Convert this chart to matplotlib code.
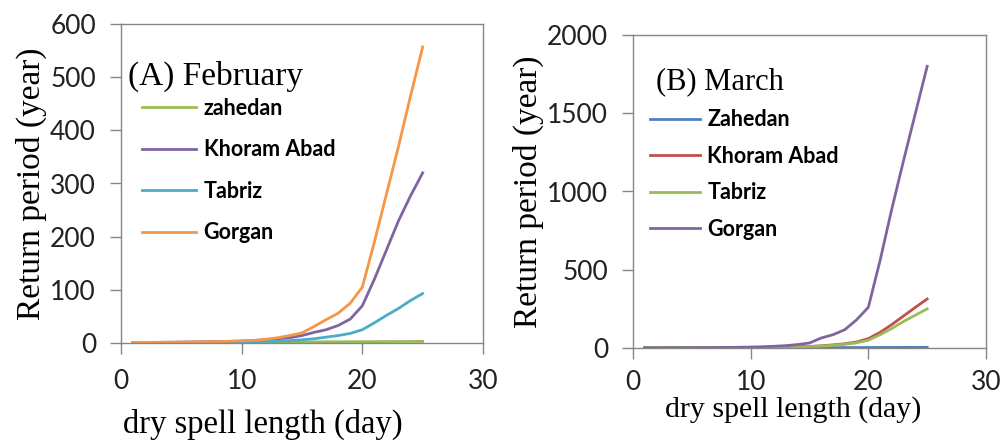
import matplotlib
matplotlib.use("Agg")
import matplotlib.pyplot as plt

days = list(range(1, 26))

# February (A)
feb_zahedan = [1.0, 1.0, 1.1, 1.1, 1.2, 1.2, 1.3, 1.3, 1.4, 1.5, 1.6, 1.7, 1.8, 1.9, 2.0, 2.1, 2.2, 2.3, 2.4, 2.5, 2.6, 2.7, 2.8, 2.9, 3.0]
feb_khoram = [1.0, 1.1, 1.2, 1.4, 1.6, 1.9, 2.2, 2.6, 3.0, 3.5, 4.5, 6, 8, 10, 14, 20, 25, 33, 45, 70, 120, 175, 230, 277, 320]
feb_tabriz = [1.0, 1.0, 1.1, 1.2, 1.3, 1.4, 1.5, 1.6, 1.7, 1.8, 2.2, 2.8, 3.5, 4.5, 6, 8, 11, 14, 18, 25, 38, 52, 65, 80, 93]
feb_gorgan = [1.0, 1.1, 1.2, 1.4, 1.6, 1.9, 2.2, 2.6, 3.2, 4.0, 5.0, 7, 10, 14, 19, 31, 44, 56, 75, 105, 190, 280, 370, 465, 557]

# March (B)
mar_zahedan = [1.0, 1.0, 1.0, 1.1, 1.1, 1.2, 1.2, 1.3, 1.4, 1.5, 1.6, 1.7, 1.8, 2.0, 2.2, 2.4, 2.6, 2.8, 3.0, 3.2, 3.4, 3.6, 3.8, 4.0, 4.2]
mar_khoram = [1.0, 1.1, 1.2, 1.3, 1.5, 1.7, 2.0, 2.4, 2.9, 3.5, 4.5, 5.5, 7, 8.5, 10, 14, 20, 27, 38, 60, 100, 150, 205, 260, 313]
mar_tabriz = [1.0, 1.1, 1.2, 1.3, 1.4, 1.6, 1.9, 2.2, 2.6, 3.1, 4.0, 5.0, 6.2, 7.5, 9, 12, 17, 24, 33, 50, 85, 125, 170, 210, 250]
mar_gorgan = [1.0, 1.1, 1.3, 1.5, 1.8, 2.2, 2.8, 3.5, 4.5, 6, 8, 11, 15, 22, 32, 64, 85, 117, 180, 260, 560, 890, 1200, 1500, 1800]

feb_labels = ["zahedan", "Khoram Abad", "Tabriz", "Gorgan"]
mar_labels = ["Zahedan", "Khoram Abad", "Tabriz", "Gorgan"]
feb_colors = ["#9BBB59", "#8064A2", "#4BACC6", "#F79646"]
mar_colors = ["#4F81BD", "#C0504D", "#9BBB59", "#8064A2"]

W, H = 1002, 448
fig = plt.figure(figsize=(W / 100, H / 100), dpi=100)

serif = ["Liberation Serif", "DejaVu Serif"]
sans = ["Lato", "DejaVu Sans"]
grey = "#868686"


def make_ax(l, r, t, b):
    return fig.add_axes([l / W, (H - b) / H, (r - l) / W, (b - t) / H])


def style(ax, ymax, ystep, xpad, ypad):
    ax.set_xlim(0, 30)
    ax.set_ylim(0, ymax)
    ax.set_xticks([0, 10, 20, 30])
    ax.set_yticks(list(range(0, ymax + 1, ystep)))
    for s in ax.spines.values():
        s.set_color(grey)
        s.set_linewidth(1.0)
    ax.tick_params(axis="x", direction="out", length=8, color=grey, width=1.0, pad=xpad, labelsize=19)
    ax.tick_params(axis="y", direction="out", length=8, color=grey, width=1.0, pad=ypad, labelsize=19)
    for lab in ax.get_xticklabels() + ax.get_yticklabels():
        lab.set_family(sans)
        lab.set_color("#222222")


# Panel A
axA = make_ax(121, 483, 24, 343)
for vals, lab, c in zip([feb_zahedan, feb_khoram, feb_tabriz, feb_gorgan], feb_labels, feb_colors):
    axA.plot(days, vals, color=c, lw=2.0, label=lab)
style(axA, 600, 100, 11, 10)
axA.set_ylabel("Return period (year)", family=serif, fontsize=24, labelpad=2)
axA.set_xlabel("dry spell length (day)", family=serif, fontsize=23.5, labelpad=16)
axA.xaxis.set_label_coords(0.392, -0.205)
axA.text(0.02, 0.835, "(A) February", transform=axA.transAxes, family=serif, fontsize=24, va="center", ha="left")
axA.legend(loc="upper left", bbox_to_anchor=(0.035, 0.795), frameon=False,
           prop={"family": sans, "size": 15.5, "weight": "bold"},
           handlelength=2.5, handletextpad=0.35, labelspacing=0.95, borderaxespad=0)

# Panel B
axB = make_ax(633, 986, 35, 348)
for vals, lab, c in zip([mar_zahedan, mar_khoram, mar_tabriz, mar_gorgan], mar_labels, mar_colors):
    axB.plot(days, vals, color=c, lw=2.0, label=lab)
style(axB, 2000, 500, 8, 10)
axB.set_ylabel("Return period (year)", family=serif, fontsize=24, labelpad=2)
axB.set_xlabel("dry spell length (day)", family=serif, fontsize=21.5, labelpad=4)
axB.xaxis.set_label_coords(0.453, -0.155)
axB.text(0.065, 0.85, "(B) March", transform=axB.transAxes, family=serif, fontsize=22, va="center", ha="left")
axB.legend(loc="upper left", bbox_to_anchor=(0.025, 0.79), frameon=False,
           prop={"family": sans, "size": 15.5, "weight": "bold"},
           handlelength=2.3, handletextpad=0.35, labelspacing=0.72, borderaxespad=0)

fig.savefig("out.png", dpi=100)
